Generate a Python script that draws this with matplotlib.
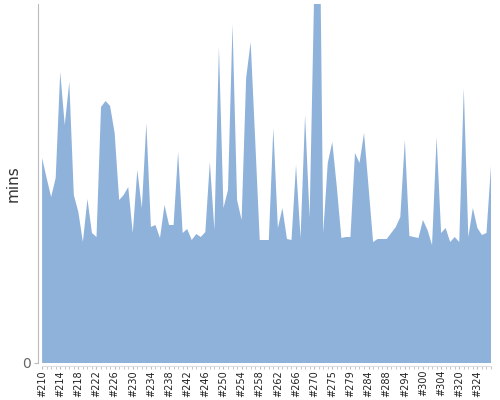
import numpy as np
import matplotlib
matplotlib.use('Agg')
import matplotlib.pyplot as plt

# build numbers (labels shown every 4th build)
builds = list(range(210, 271)) + [271, 272, 273, 275, 276, 277, 278, 279,
          280, 281, 283, 284, 285, 286, 287, 288, 290, 292, 293, 294,
          296, 298, 299, 300, 301, 302, 303, 304, 308, 312, 316, 320,
          321, 322, 323, 324, 325, 326, 327]

# build duration in minutes
mins = [20.5, 18.5, 16.6, 18.5, 29.1, 23.8, 28.1, 16.8, 15.1, 12.1,
        16.4, 13.0, 12.6, 25.6, 26.2, 25.7, 23.0, 16.3, 16.8, 17.6,
        13.0, 19.3, 15.5, 24.0, 13.6, 13.8, 12.5, 15.8, 13.8, 13.8,
        21.1, 13.0, 13.4, 12.3, 12.9, 12.6, 13.1, 20.1, 13.3, 31.6,
        15.5, 17.3, 33.9, 16.3, 14.3, 28.5, 32.1, 22.3, 12.3, 12.3,
        12.3, 23.5, 13.5, 15.5, 12.4, 12.3, 19.8, 12.5, 24.8, 14.5,
        37.0, 55.0, 13.0, 20.0, 22.1, 17.6, 12.5, 12.6, 12.6, 21.0,
        20.0, 23.0, 17.6, 12.1, 12.4, 12.4, 12.4, 13.0, 13.6, 14.6,
        22.3, 12.7, 12.6, 12.5, 14.3, 13.3, 11.8, 22.6, 13.0, 13.5,
        12.1, 12.6, 12.1, 27.5, 12.6, 15.5, 13.5, 12.8, 13.0, 19.7]

x = np.arange(len(mins))
labels = ['#%d' % b for b in builds]

fig = plt.figure(figsize=(5, 4), dpi=100)
ax = fig.add_axes([0.076, 0.0925, 0.906, 0.8975])

ax.fill_between(x, 0, mins, color='#8FB2DB', linewidth=0)
ax.set_xlim(-0.9, len(mins) - 1)
ax.set_ylim(0, 35.9)

for s in ['top', 'right']:
    ax.spines[s].set_visible(False)
ax.spines['left'].set_color('#bbbbbb')
ax.spines['bottom'].set_color('#dddddd')
ax.spines['bottom'].set_position(('outward', 2))
ax.spines['bottom'].set_bounds(0, len(mins) - 1)

ax.set_yticks([0])
ax.tick_params(axis='y', colors='#bbbbbb', labelcolor='#666666', labelsize=10, length=3, pad=2)

ax.set_xticks(x[::4])
ax.set_xticklabels(labels[::4], rotation=90, fontsize=7, color='#222222')
ax.set_xticks(x, minor=True)
ax.tick_params(axis='x', which='both', colors='#bbbbbb', labelcolor='#222222', length=2, pad=1)

ax.set_ylabel('mins', fontsize=11, color='#333333', labelpad=1)

plt.savefig('out.png', dpi=100)
